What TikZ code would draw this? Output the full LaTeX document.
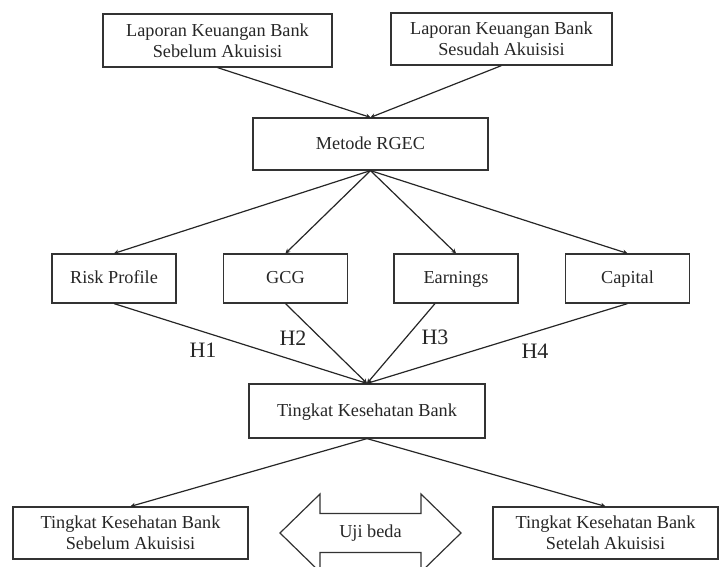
\documentclass[tikz,border=0pt]{standalone}
\usepackage{fontspec}
\setmainfont{Liberation Serif}
\usetikzlibrary{arrows.meta}
\newcommand{\boxfont}{\fontsize{13.7}{15.75}\selectfont}
\newcommand{\hfont}{\fontsize{16.5}{18}\selectfont}

\begin{document}
\begin{tikzpicture}[x=0.75pt,y=-0.75pt,
    box/.style={draw=black!80,line width=0.9pt,text=black!85,font=\boxfont,
      align=center,inner sep=2pt,minimum height=39pt},
    onerow/.style={text height=1.9ex,text depth=0.15ex},
    rowbox/.style={box,onerow,minimum width=93pt,minimum height=36.75pt},
    link/.style={draw=black!85,line width=0.9pt,-{Stealth[length=3.5pt,width=3.5pt]}},
    hlabel/.style={text=black!85,font=\hfont,inner sep=0pt}]
   \useasboundingbox (0,0) rectangle (719,567);
   \clip (0,0) rectangle (719,567);
   % sources
   \node[box,minimum width=171.75pt,minimum height=39.75pt] (lapA) at (217.5,40.5)
     {Laporan Keuangan Bank\\Sebelum Akuisisi};
   \node[box,minimum width=165.75pt] (lapB) at (501.5,39)
     {Laporan Keuangan Bank\\Sesudah Akuisisi};
   \node[box,onerow,minimum width=176.25pt] (rgec) at (370.5,144) {Metode RGEC};
   % RGEC components
   \node[rowbox] (risk) at (114,278.5) {Risk Profile};
   \node[rowbox] (gcg)  at (285.5,278.5) {GCG};
   \node[rowbox] (earn) at (456,278.5) {Earnings};
   \node[rowbox] (cap)  at (627.5,278.5) {Capital};
   \node[box,onerow,minimum width=177pt,minimum height=40.5pt] (sehat) at (367,411)
     {Tingkat Kesehatan Bank};
   \node[box,minimum width=176.25pt] (sebelum) at (130.5,533)
     {Tingkat Kesehatan Bank\\Sebelum Akuisisi};
   \node[box,minimum width=168.75pt] (setelah) at (605.5,533)
     {Tingkat Kesehatan Bank\\Setelah Akuisisi};
   % connectors
   \draw[link] (lapA.south) -- (rgec.north);
   \draw[link] (lapB.south) -- (rgec.north);
   \draw[link] (rgec.south) -- (risk.north);
   \draw[link] (rgec.south) -- (gcg.north);
   \draw[link] (rgec.south) -- (earn.north);
   \draw[link] (rgec.south) -- (cap.north);
   \draw[link] (risk.south) -- (sehat.north);
   \draw[link] (gcg.south) -- (sehat.north);
   \draw[link] ([xshift=-15.75pt]earn.south) -- (sehat.north);
   \draw[link] (cap.south) -- (sehat.north);
   \draw[link] (sehat.south) -- (sebelum.north);
   \draw[link] (sehat.south) -- (setelah.north);
   % hypotheses
   \node[hlabel] (h1) at (203,350) {H1};
   \node[hlabel] (h2) at (293,338) {H2};
   \node[hlabel] (h3) at (435,337) {H3};
   \node[hlabel] (h4) at (535,351) {H4};
   % double arrow
   \begin{scope}[shift={(370.5,533)}]
    \draw[black!80,line width=0.9pt] (-90.5,0) -- (-50.5,-39) -- (-50.5,-19.5)
      -- (50.5,-19.5) -- (50.5,-39) -- (90.5,0) -- (50.5,39) -- (50.5,19.5)
      -- (-50.5,19.5) -- (-50.5,39) -- cycle;
    \node[text=black!85,font=\boxfont] (uji) at (0,0) {Uji beda};
   \end{scope}
  \end{tikzpicture}
\end{document}
